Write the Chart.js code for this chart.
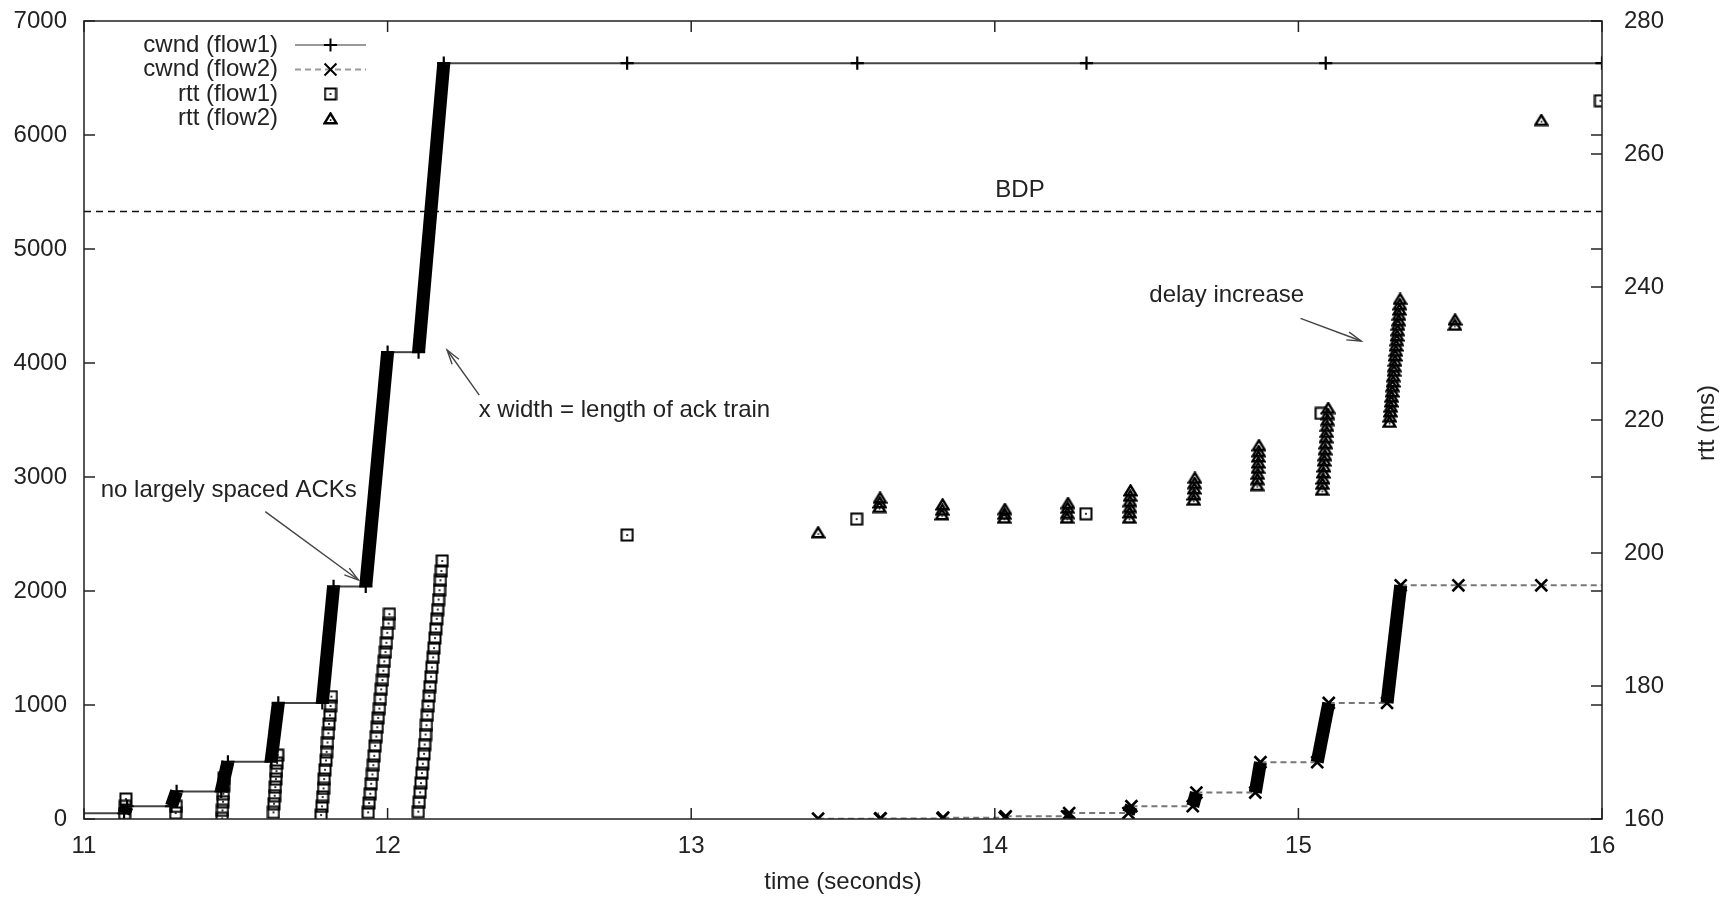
<!DOCTYPE html>
<html>
<head>
<meta charset="utf-8">
<script src="https://cdn.jsdelivr.net/npm/chart.js@4.4.1/dist/chart.umd.min.js"></script>
<style>
html,body{margin:0;padding:0;background:#fff;}
#wrap{width:1733px;height:899px;}
</style>
</head>
<body>
<div id="wrap"><canvas id="c" width="1733" height="899"></canvas></div>
<script>
// ---------------- data ----------------
const xTicks = [11, 12, 13, 14, 15, 16];
const xTickLabels = ['11', '12', '13', '14', '15', '16'];
const yTicks = [0, 1000, 2000, 3000, 4000, 5000, 6000, 7000];
const yTickLabels = ['0', '1000', '2000', '3000', '4000', '5000', '6000', '7000'];
const y2Ticks = [160, 180, 200, 220, 240, 260, 280];
const y2TickLabels = ['160', '180', '200', '220', '240', '260', '280'];

const seriesNames = ['cwnd (flow1)', 'cwnd (flow2)', 'rtt (flow1)', 'rtt (flow2)'];

// cwnd of flow 1 (left axis)
const cwnd1Time = [11.000, 11.132, 11.142, 11.288, 11.305, 11.452, 11.474, 11.616, 11.640, 11.785,
  11.822, 11.928, 12.000, 12.102, 12.185, 12.789, 13.547, 14.302, 15.090, 16.000];
const cwnd1Value = [50, 50, 112, 112, 242, 242, 502, 502, 1018, 1018,
  2040, 2040, 4095, 4095, 6630, 6630, 6630, 6630, 6630, 6630];

// cwnd of flow 2 (left axis)
const cwnd2Time = [13.418, 13.622, 13.624, 13.828, 13.830, 14.033, 14.036, 14.238, 14.245, 14.440,
  14.450, 14.652, 14.664, 14.858, 14.875, 15.062, 15.100, 15.292, 15.337, 15.527, 15.800, 16.000];
const cwnd2Value = [3, 3, 5, 5, 12, 12, 24, 24, 52, 52,
  112, 112, 232, 232, 498, 498, 1018, 1018, 2050, 2050, 2050, 2050];

// rtt of flow 1 (right axis, ms)
const rtt1Time = [
  11.134, 11.136, 11.138,
  11.302, 11.304,
  11.455, 11.456, 11.458, 11.459, 11.460, 11.461,
  11.624, 11.626, 11.628, 11.630, 11.632, 11.634, 11.636, 11.638,
  11.781, 11.784, 11.786, 11.789, 11.791, 11.794, 11.797, 11.799, 11.802, 11.805, 11.807, 11.810, 11.812, 11.815,
  11.936, 11.939, 11.943, 11.946, 11.950, 11.953, 11.956, 11.959, 11.963, 11.966, 11.969, 11.973, 11.976, 11.979,
  11.983, 11.986, 11.989, 11.993, 11.996, 11.999, 12.003, 12.006,
  12.101, 12.104, 12.107, 12.110, 12.113, 12.116, 12.120, 12.122, 12.125, 12.128, 12.131, 12.134, 12.137, 12.140,
  12.143, 12.146, 12.150, 12.153, 12.156, 12.159, 12.162, 12.165, 12.168, 12.171, 12.174, 12.177, 12.180,
  12.789, 13.545, 14.300, 15.075, 15.995];
const rtt1Value = [
  160.8, 161.9, 163.0,
  160.9, 161.9,
  160.1, 161.3, 162.6, 163.8, 165.0, 166.1,
  161.0, 162.3, 163.5, 164.8, 166.0, 167.2, 168.4, 169.6,
  160.6, 161.9, 163.3, 164.6, 166.0, 167.4, 168.8, 170.1, 171.5, 172.9, 174.3, 175.6, 177.0, 178.4,
  161.0, 162.4, 163.8, 165.3, 166.7, 168.1, 169.5, 171.0, 172.4, 173.8, 175.2, 176.6, 178.0, 179.5,
  180.9, 182.3, 183.7, 185.1, 186.5, 188.0, 189.4, 190.8,
  161.1, 162.5, 164.0, 165.4, 166.9, 168.3, 169.8, 171.2, 172.7, 174.1, 175.6, 177.0, 178.5, 179.9,
  181.4, 182.8, 184.3, 185.7, 187.2, 188.6, 190.1, 191.5, 193.0, 194.4, 195.9, 197.3, 198.8,
  202.7, 205.1, 205.9, 221.0, 268.0];

// rtt of flow 2 (right axis, ms)
const rtt2Time = [
  13.418,
  13.620, 13.621, 13.622,
  13.826, 13.827, 13.828,
  14.031, 14.032, 14.033,
  14.238, 14.239, 14.240, 14.241,
  14.443, 14.444, 14.445, 14.445, 14.446, 14.447,
  14.655, 14.656, 14.657, 14.658, 14.659,
  14.864, 14.865, 14.866, 14.867, 14.868, 14.868, 14.869, 14.870,
  15.078, 15.079, 15.081, 15.082, 15.084, 15.085, 15.087, 15.088, 15.090, 15.091, 15.093, 15.094, 15.096, 15.097, 15.098,
  15.300, 15.301, 15.303, 15.304, 15.306, 15.307, 15.309, 15.310, 15.312, 15.313, 15.315, 15.316, 15.318,
  15.319, 15.321, 15.322, 15.324, 15.325, 15.327, 15.328, 15.330, 15.331, 15.333, 15.334, 15.335,
  15.515, 15.516,
  15.800];
const rtt2Value = [
  203.1,
  206.9, 207.6, 208.3,
  205.8, 206.5, 207.3,
  205.3, 205.9, 206.6,
  205.3, 206.0, 206.8, 207.5,
  205.3, 206.1, 206.9, 207.8, 208.6, 209.4,
  208.0, 208.8, 209.7, 210.5, 211.3,
  210.2, 211.1, 211.9, 212.8, 213.6, 214.5, 215.3, 216.2,
  209.5, 210.4, 211.2, 212.1, 213.0, 213.9, 214.7, 215.6, 216.5, 217.4, 218.2, 219.1, 220.0, 220.9, 221.8,
  219.7, 220.5, 221.3, 222.0, 222.8, 223.5, 224.3, 225.1, 225.8, 226.6, 227.4, 228.1, 228.9,
  229.7, 230.4, 231.2, 232.0, 232.7, 233.5, 234.3, 235.0, 235.8, 236.6, 237.4, 238.2,
  234.3, 235.1,
  265.1];

// bandwidth-delay product (left axis)
const bdpTime = [11, 16];
const bdpValue = [5330, 5330];

// ---------------- styling helpers ----------------
const FONT = '"Liberation Sans", Arial, Helvetica, sans-serif';
const TEXT = '#222';
Chart.defaults.font.family = FONT;
Chart.defaults.font.size = 24;
Chart.defaults.color = TEXT;

function squareMarker() {
  const c = document.createElement('canvas');
  c.width = 14; c.height = 14;
  const g = c.getContext('2d');
  g.strokeStyle = '#000'; g.lineWidth = 2;
  g.strokeRect(1.5, 1.5, 11, 11);
  g.fillStyle = '#000'; g.fillRect(6.1, 6.1, 1.8, 1.8);
  return c;
}
function triangleMarker() {
  const c = document.createElement('canvas');
  c.width = 15; c.height = 13;
  const g = c.getContext('2d');
  g.strokeStyle = '#000'; g.lineWidth = 2.4;
  g.beginPath(); g.moveTo(7.5, 1.5); g.lineTo(13.5, 11.3); g.lineTo(1.5, 11.3); g.closePath(); g.stroke();
  g.fillStyle = '#000'; g.fillRect(6.8, 7.3, 1.6, 1.6);
  return c;
}
const SQ = squareMarker();
const TRI = triangleMarker();

const pts = (t, v) => t.map((x, i) => ({ x: x, y: v[i] }));
const isRamp = c => c.p0.parsed.y !== c.p1.parsed.y;
const noPad = s => { s.paddingTop = 0; s.paddingBottom = 0; s.paddingLeft = 0; s.paddingRight = 0; };

const PLUS_R = 6.6, XR = 8.4;

// ---------------- plugins ----------------
const framePlugin = {
  id: 'frame',
  afterDatasetsDraw(chart) {
    const { ctx, chartArea: a, scales } = chart;
    const L = 11;
    ctx.save();
    ctx.strokeStyle = '#222';
    ctx.lineWidth = 1.5;
    const seg = (x1, y1, x2, y2) => { ctx.beginPath(); ctx.moveTo(x1, y1); ctx.lineTo(x2, y2); ctx.stroke(); };
    scales.x.ticks.forEach(t => {
      const p = scales.x.getPixelForValue(t.value);
      seg(p, a.bottom, p, a.bottom - L); seg(p, a.top, p, a.top + L);
    });
    scales.y.ticks.forEach(t => {
      const p = scales.y.getPixelForValue(t.value);
      seg(a.left, p, a.left + L, p); seg(a.right, p, a.right - L, p);
    });
    scales.y2.ticks.forEach(t => {
      const p = scales.y2.getPixelForValue(t.value);
      seg(a.right, p, a.right - L, p);
    });
    ctx.strokeRect(a.left, a.top, a.right - a.left, a.bottom - a.top);
    ctx.restore();
  }
};

const notesPlugin = {
  id: 'notes',
  afterDraw(chart, args, opts) {
    const { ctx, scales, chartArea: a } = chart;
    const X = v => scales.x.getPixelForValue(v);
    const Y = v => scales.y.getPixelForValue(v);
    ctx.save();
    ctx.font = '24px ' + FONT;
    ctx.fillStyle = TEXT;
    ctx.textBaseline = 'middle';
    (opts.texts || []).forEach(n => {
      ctx.textAlign = n.align || 'left';
      ctx.fillText(n.text, X(n.at[0]), Y(n.at[1]));
    });
    ctx.strokeStyle = '#444';
    ctx.lineWidth = 1.4;
    (opts.arrows || []).forEach(ar => {
      const x1 = X(ar.from[0]), y1 = Y(ar.from[1]), x2 = X(ar.to[0]), y2 = Y(ar.to[1]);
      ctx.beginPath(); ctx.moveTo(x1, y1); ctx.lineTo(x2, y2); ctx.stroke();
      const ang = Math.atan2(y2 - y1, x2 - x1), hl = 15, ha = 0.28;
      ctx.beginPath();
      ctx.moveTo(x2 - hl * Math.cos(ang - ha), y2 - hl * Math.sin(ang - ha));
      ctx.lineTo(x2, y2);
      ctx.lineTo(x2 - hl * Math.cos(ang + ha), y2 - hl * Math.sin(ang + ha));
      ctx.stroke();
    });
    // right axis title, reading bottom-to-top
    ctx.translate(a.right + 105, (a.top + a.bottom) / 2 + 3);
    ctx.rotate(-Math.PI / 2);
    ctx.textAlign = 'center';
    ctx.fillText(opts.y2Title, 0, 0);
    ctx.restore();
  }
};

const keyPlugin = {
  id: 'key',
  afterDraw(chart, args, opts) {
    const { ctx, chartArea: a } = chart;
    ctx.save();
    ctx.font = '24px ' + FONT;
    ctx.textBaseline = 'middle';
    let row = 0;
    chart.data.datasets.forEach(ds => {
      if (!ds.inKey) return;
      const y = a.top + opts.firstRow + row * opts.rowGap;
      ctx.fillStyle = TEXT;
      ctx.textAlign = 'right';
      ctx.fillText(ds.label, a.left + opts.textRight, y);
      const x0 = a.left + opts.sampleFrom, x1 = a.left + opts.sampleTo, xm = (x0 + x1) / 2;
      if (ds.showLine !== false) {
        ctx.strokeStyle = ds.keyColor || ds.borderColor;
        ctx.lineWidth = ds.borderWidth;
        ctx.setLineDash(ds.borderDash || []);
        ctx.beginPath(); ctx.moveTo(x0, y); ctx.lineTo(x1, y); ctx.stroke();
        ctx.setLineDash([]);
      }
      ctx.strokeStyle = '#000';
      ctx.fillStyle = '#000';
      Chart.helpers.drawPoint(ctx, {
        pointStyle: ds.pointStyle, rotation: 0,
        radius: ds.keyRadius, borderWidth: ds.pointBorderWidth
      }, xm, y);
      row++;
    });
    ctx.restore();
  }
};

// ---------------- chart ----------------
const lastIdx2 = cwnd2Time.length - 1;

new Chart(document.getElementById('c'), {
  type: 'line',
  data: {
    datasets: [
      {
        label: seriesNames[0], inKey: true, keyRadius: PLUS_R, keyColor: '#999',
        data: pts(cwnd1Time, cwnd1Value), yAxisID: 'y',
        borderColor: '#444', borderWidth: 2, tension: 0,
        pointStyle: 'cross', pointRadius: c => c.dataIndex === 0 ? 0 : PLUS_R,
        pointBorderColor: '#000', pointBackgroundColor: '#000', pointBorderWidth: 2.2,
        segment: {
          borderColor: c => isRamp(c) ? '#000' : undefined,
          borderWidth: c => isRamp(c) ? 13 : undefined
        }
      },
      {
        label: seriesNames[1], inKey: true, keyRadius: XR, keyColor: '#999',
        data: pts(cwnd2Time, cwnd2Value), yAxisID: 'y',
        borderColor: '#777', borderWidth: 2, borderDash: [6, 4], tension: 0,
        pointStyle: 'crossRot', pointRadius: c => c.dataIndex === lastIdx2 ? 0 : XR,
        pointBorderColor: '#000', pointBackgroundColor: '#000', pointBorderWidth: 2.6,
        segment: {
          borderColor: c => isRamp(c) ? '#000' : undefined,
          borderWidth: c => isRamp(c) ? 13 : undefined,
          borderDash: c => isRamp(c) ? [] : undefined
        }
      },
      {
        label: seriesNames[2], inKey: true, keyRadius: 7,
        data: pts(rtt1Time, rtt1Value), yAxisID: 'y2',
        showLine: false, pointStyle: SQ, pointRadius: 7, pointBorderWidth: 1
      },
      {
        label: seriesNames[3], inKey: true, keyRadius: 7,
        data: pts(rtt2Time, rtt2Value), yAxisID: 'y2',
        showLine: false, pointStyle: TRI, pointRadius: 7, pointBorderWidth: 1
      },
      {
        label: 'BDP', inKey: false,
        data: pts(bdpTime, bdpValue), yAxisID: 'y',
        borderColor: '#111', borderWidth: 1.5, borderDash: [7, 5], pointRadius: 0, tension: 0
      }
    ]
  },
  options: {
    responsive: false,
    animation: false,
    events: [],
    devicePixelRatio: 1,
    layout: { padding: { top: 21, left: 0, right: 0, bottom: 0 }, autoPadding: false },
    scales: {
      x: {
        type: 'linear', min: 11, max: 16,
        afterBuildTicks: s => { s.ticks = xTicks.map(v => ({ value: v })); },
        afterFit: s => { s.height = 80; noPad(s); },
        ticks: { padding: 13, autoSkip: false, maxRotation: 0, callback: (v, i) => xTickLabels[i] },
        grid: { display: false, drawTicks: false },
        border: { display: false },
        title: { display: true, text: 'time (seconds)', padding: { top: 0, bottom: 2 }, font: { size: 24 } }
      },
      y: {
        type: 'linear', position: 'left', min: 0, max: 7000,
        afterBuildTicks: s => { s.ticks = yTicks.map(v => ({ value: v })); },
        afterFit: s => { s.width = 84; noPad(s); },
        ticks: { padding: 17, autoSkip: false, callback: (v, i) => yTickLabels[i] },
        grid: { display: false, drawTicks: false },
        border: { display: false }
      },
      y2: {
        type: 'linear', position: 'right', min: 160, max: 280,
        afterBuildTicks: s => { s.ticks = y2Ticks.map(v => ({ value: v })); },
        afterFit: s => { s.width = 131; noPad(s); },
        ticks: { padding: 22, autoSkip: false, callback: (v, i) => y2TickLabels[i] },
        grid: { display: false, drawTicks: false },
        border: { display: false }
      }
    },
    plugins: {
      legend: { display: false },
      tooltip: { enabled: false },
      key: { textRight: 194, sampleFrom: 211, sampleTo: 282, firstRow: 24, rowGap: 24.5 },
      notes: {
        y2Title: 'rtt (ms)',
        texts: [
          { text: 'BDP', at: [14.083, 5518], align: 'center' },
          { text: 'no largely spaced ACKs', at: [11.055, 2886] },
          { text: 'x width = length of ack train', at: [12.30, 3583] },
          { text: 'delay increase', at: [14.509, 4596] }
        ],
        arrows: [
          { from: [11.597, 2696], to: [11.904, 2096] },
          { from: [12.302, 3719], to: [12.196, 4114] },
          { from: [15.007, 4392], to: [15.207, 4193] }
        ]
      }
    }
  },
  plugins: [framePlugin, notesPlugin, keyPlugin]
});
</script>
</body>
</html>
